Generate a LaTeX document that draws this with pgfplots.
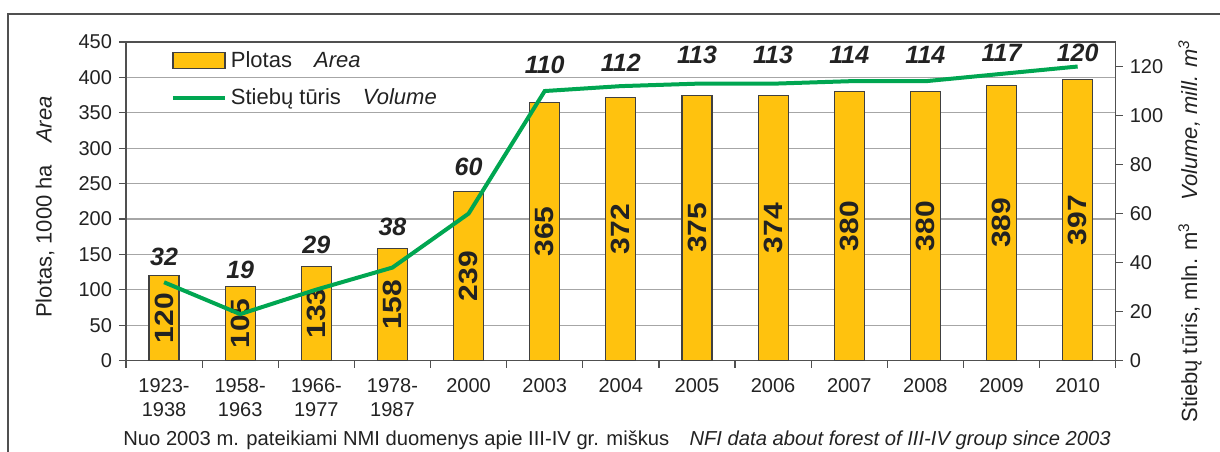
\documentclass[border=0pt]{standalone}
\usepackage{fontspec}
\setmainfont{Liberation Sans}
\usepackage{pgfplots}
\pgfplotsset{compat=1.18}
\usepackage{pgfplotstable}

\definecolor{barfill}{HTML}{FFC20E}
\definecolor{baredge}{HTML}{404040}
\definecolor{linegreen}{HTML}{00A651}
\definecolor{axisgray}{HTML}{505050}
\definecolor{gridgray}{HTML}{A6A6A6}
\definecolor{txt}{HTML}{222222}

% x: category index, area: 1000 ha, vol: mln. m3, ly: where the volume label sits (right axis units)
\pgfplotstableread{
x area vol ly
0  120 32  42.3
1  105 19  37.0
2  133 29  47.2
3  158 38  54.5
4  239 60  79.0
5  365 110 120.6
6  372 112 121.4
7  375 113 124.7
8  374 113 124.7
9  380 114 124.7
10 380 114 124.7
11 389 117 125.5
12 397 120 125.5
}\forestdata

\begin{document}
\begin{tikzpicture}
\useasboundingbox (-63pt,-45.15pt) rectangle (547pt,180.35pt);
\draw[axisgray, line width=0.8pt] (-59pt,-46pt) -- (-59pt,173.35pt) -- (548pt,173.35pt);

\pgfplotsset{base/.style={
    scale only axis, width=494.85pt, height=159.35pt,
    at={(0,0)}, anchor=south west,
    xmin=-0.5, xmax=12.5,
    axis line style={axisgray, line width=0.6pt},
    tick style={axisgray, line width=0.6pt},
    tick align=outside, major tick length=3.5pt,
    /pgf/number format/assume math mode=true,
    ticklabel style={font=\fontsize{10}{12}\selectfont, text=txt},
}}

\begin{axis}[base,
    ymin=0, ymax=450, ytick={0,50,...,450},
    ymajorgrids, grid style={gridgray, line width=0.6pt},
    ytick pos=left, xtick pos=bottom,
    xtick={-0.5,0.5,...,12.5}, x tick label as interval,
    xticklabels={{1923-\\1938},{1958-\\1963},{1966-\\1977},{1978-\\1987},2000,2003,2004,2005,2006,2007,2008,2009,2010},
    xticklabel style={align=center, yshift=-2pt},
]
\addplot[ybar, bar width=15pt, fill=barfill, draw=baredge, line width=0.6pt]
    table[x=x, y=area]{\forestdata};
\addplot[draw=none, mark=none, nodes near coords, point meta=explicit,
    every node near coord/.style={rotate=90, yscale=0.88, anchor=center, inner sep=0pt,
        font=\bfseries\fontsize{15}{15}\selectfont, text=txt}]
    table[x=x, y expr=\thisrow{area}/2, meta=area]{\forestdata};
\end{axis}

\begin{axis}[base,
    ymin=0, ymax=130, ytick={0,20,...,120},
    axis y line*=right, axis x line=none,
    legend style={at={(0.045,0.985)}, anchor=north west, draw=none, fill=none,
        font=\fontsize{11}{13}\selectfont, text=txt, row sep=5pt, inner sep=0pt},
    legend cell align=left,
]
\addlegendimage{legend image code/.code={
    \draw[fill=barfill, draw=baredge, line width=0.6pt] (0pt,-4pt) rectangle (26pt,4pt);}}
\addlegendentry{Plotas\quad\textit{Area}}
\addplot[linegreen, line width=2pt,
    legend image code/.code={\draw[linegreen, line width=2pt] (0pt,0pt) -- (26pt,0pt);}]
    table[x=x, y=vol]{\forestdata};
\addlegendentry{Stiebų tūris\quad\textit{Volume}}
\addplot[draw=none, mark=none, nodes near coords, point meta=explicit,
    every node near coord/.style={anchor=center, inner sep=0pt,
        font=\bfseries\itshape\fontsize{12.5}{12.5}\selectfont, text=txt}]
    table[x=x, y=ly, meta=vol]{\forestdata};
\end{axis}

\node[rotate=90, font=\fontsize{11}{13}\selectfont, text=txt] at (-40.5pt,76.85pt)
    {Plotas, 1000 ha\quad\textit{Area}};
\node[rotate=90, font=\fontsize{11}{13}\selectfont, text=txt] at (532pt,64.85pt)
    {Stiebų tūris, mln. m\textsuperscript{3}\quad\textit{Volume, mill. m\textsuperscript{3}}};
\node[font=\fontsize{10.1}{12}\selectfont, text=txt] at (245.5pt,-39.65pt)
    {Nuo 2003 m. pateikiami NMI duomenys apie III-IV gr. miškus\quad\textit{NFI data about forest of III-IV group since 2003}};
\end{tikzpicture}
\end{document}
